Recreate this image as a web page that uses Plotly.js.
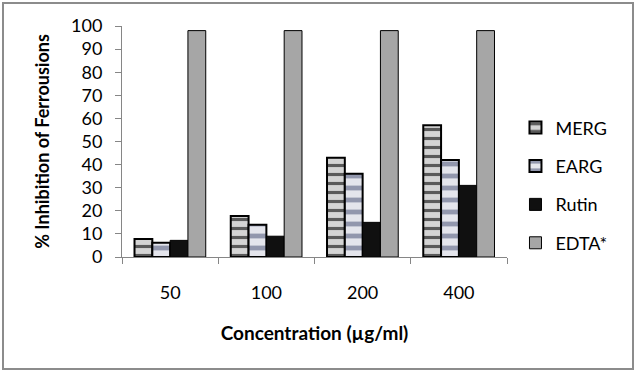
<!DOCTYPE html>
<html>
<head>
<meta charset="utf-8">
<script src="https://cdn.plot.ly/plotly-3.0.1.min.js"></script>
<style>
html,body{margin:0;padding:0;background:#fff;}
#wrap{position:relative;width:636px;height:372px;}
#chart{position:absolute;left:0;top:0;width:636px;height:372px;}
#frame{position:absolute;left:2px;top:2px;width:628px;height:364px;border:2px solid #8c8c8c;pointer-events:none;}
</style>
</head>
<body>
<div id="wrap"><div id="chart"></div><div id="frame"></div></div>
<script>
const categories = ["50", "100", "200", "400"];
const merg  = [7.8, 17.8, 43, 57];
const earg  = [6.2, 14, 36, 42];
const rutin = [7.2, 9, 15, 31];
const edta  = [98, 98, 98, 98];
const seriesNames = ["MERG", "EARG", "Rutin", "EDTA*"];
const yTicks = [0,10,20,30,40,50,60,70,80,90,100];

const font = "Lato, 'Open Sans', sans-serif";

const traces = [
  {x: categories, y: merg, name: seriesNames[0], legendgroup: "a",
   marker: {color: "#d4d4d4", line: {color: "#000", width: 2},
            pattern: {shape: "-", fgcolor: "#5a5a5a", bgcolor: "#d4d4d4", size: 9, solidity: 0.35}}},
  {x: categories, y: earg, name: seriesNames[1], legendgroup: "b",
   marker: {color: "#d3d5de", line: {color: "#000", width: 2},
            pattern: {shape: "-", fgcolor: "#9297ad", bgcolor: "#e4e5ec", size: 12, solidity: 0.4}}},
  {x: categories, y: rutin, name: seriesNames[2], legendgroup: "c",
   marker: {color: "#101010", line: {color: "#000", width: 1}}},
  {x: categories, y: edta, name: seriesNames[3], legendgroup: "d",
   marker: {color: "#a6a6a6", line: {color: "#000", width: 1}}}
].map(t => Object.assign({type: "bar", hoverinfo: "none"}, t));

const layout = {
  width: 636, height: 372,
  margin: {l: 122, r: 129, t: 26, b: 115},
  paper_bgcolor: "#fff", plot_bgcolor: "#fff",
  barmode: "group", bargap: 0.26, bargroupgap: 0,
  font: {family: font, color: "#000", size: 18},
  showlegend: true,
  legend: {x: 1.022, xanchor: "left", y: 0.31, yanchor: "middle",
           font: {family: font, size: 18, color: "#000"},
           tracegroupgap: 12, traceorder: "grouped", itemwidth: 30},
  xaxis: {type: "category", showline: true, linecolor: "#868686", linewidth: 1,
          ticks: "outside", tickson: "boundaries", ticklen: 6, tickcolor: "#868686",
          ticklabelstandoff: 19,
          showgrid: false, zeroline: false, tickfont: {size: 18, family: font},
          title: {text: "<b>Concentration (µg/ml)</b>", font: {size: 19, family: font}, standoff: 25}},
  yaxis: {range: [0, 100], tickvals: yTicks, showline: true, linecolor: "#868686", linewidth: 1,
          ticks: "outside", ticklen: 6, tickcolor: "#868686",
          ticklabelstandoff: 9,
          showgrid: false, zeroline: false, tickfont: {size: 18, family: font},
          title: {text: "<b>% Inhibition of Ferrousions</b>", font: {size: 18, family: font}, standoff: 16}}
};

Plotly.newPlot("chart", traces, layout, {staticPlot: true, displayModeBar: false});
</script>
</body>
</html>
